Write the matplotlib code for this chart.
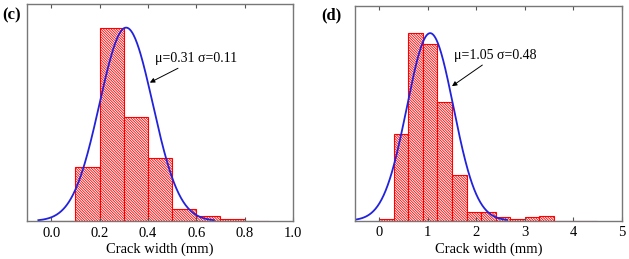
import numpy as np
import matplotlib
matplotlib.use("Agg")
import matplotlib.pyplot as plt

plt.rcParams["font.family"] = ["Liberation Serif", "DejaVu Serif"]
plt.rcParams["hatch.linewidth"] = 0.6

# panel (c): bins of 0.1 mm (left edges)
c_edges = [0.0, 0.1, 0.2, 0.3, 0.4, 0.5, 0.6, 0.7, 0.8]
c_freq = [0, 12.6, 45.0, 24.1, 14.7, 2.8, 1.1, 0.5, 0]
c_mu, c_sd, c_peak = 0.31, 0.11, 45.0
c_ticks = [0.0, 0.2, 0.4, 0.6, 0.8, 1.0]
c_ticklabels = ["0.0", "0.2", "0.4", "0.6", "0.8", "1.0"]

# panel (d): bins of 0.3 mm (left edges)
d_edges = [0.0, 0.3, 0.6, 0.9, 1.2, 1.5, 1.8, 2.1, 2.4, 2.7, 3.0, 3.3, 3.6, 3.9, 4.2]
d_freq = [0.2, 13.4, 29.0, 27.3, 18.3, 7.0, 1.4, 1.4, 0.5, 0.2, 0.5, 0.8, 0, 0, 0]
d_mu, d_sd, d_peak = 1.05, 0.48, 29.0
d_ticks = [0, 1, 2, 3, 4, 5]
d_ticklabels = ["0", "1", "2", "3", "4", "5"]

fig = plt.figure(figsize=(6.29, 2.59), dpi=100)
ax_c = fig.add_axes([0.0429, 0.1467, 0.4229, 0.838])
ax_d = fig.add_axes([0.5644, 0.1479, 0.424, 0.829])


def panel(ax, edges, freq, width, mu, sd, peak, xlim, ylim, ticks, labels,
          note, xy, xytext, letter):
    ax.bar(edges, freq, width=width, align="edge", facecolor="white",
           edgecolor="red", hatch="\\" * 13, linewidth=0.8)
    x = np.linspace(mu - 3.3 * sd, mu + 3.3 * sd, 300)
    ax.plot(x, peak * np.exp(-(x - mu) ** 2 / (2 * sd ** 2)),
            color="#2222dd", linewidth=1.3)
    ax.set_xlim(*xlim)
    ax.set_ylim(*ylim)
    ax.set_xticks(ticks)
    ax.set_xticklabels(labels, fontsize=10.5)
    ax.set_yticks([])
    ax.tick_params(axis="x", direction="in", length=3, top=True,
                   color="#555555", pad=4)
    for s in ax.spines.values():
        s.set_color("#777777")
        s.set_linewidth(1.0)
    ax.set_xlabel("Crack width (mm)", fontsize=10.5, labelpad=2)
    ax.annotate(note, xy=xy, xytext=xytext, fontsize=10, va="center",
                arrowprops=dict(arrowstyle="-|>", color="black", lw=0.7,
                                mutation_scale=7, shrinkA=0, shrinkB=0))
    ax.text(letter[0], letter[1], letter[2], transform=fig.transFigure,
            fontsize=12, fontweight="bold", va="center")


panel(ax_c, c_edges, c_freq, 0.1, c_mu, c_sd, c_peak,
      (-0.1, 1.0), (0, 50.5), c_ticks, c_ticklabels,
      "\u03bc=0.31 \u03c3=0.11", (0.408, 32.2), (0.43, 37.7),
      (0.003, 0.94, "(c)"))
panel(ax_d, d_edges, d_freq, 0.3, d_mu, d_sd, d_peak,
      (-0.5, 5.0), (0, 33.2), d_ticks, d_ticklabels,
      "\u03bc=1.05 \u03c3=0.48", (1.5, 20.8), (1.55, 25.5),
      (0.51, 0.94, "(d)"))

fig.savefig("out.png", dpi=100)
